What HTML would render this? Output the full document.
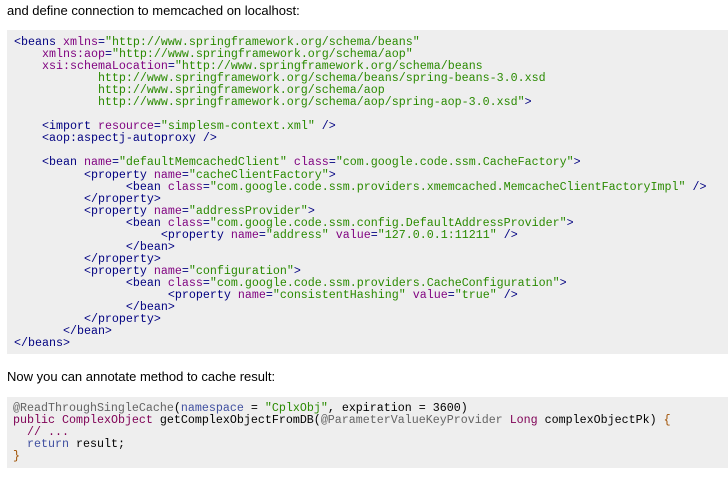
<!DOCTYPE html>
<html><head><style>
body{margin:0;width:728px;height:483px;background:#fff;position:relative;overflow:hidden;font-family:"Liberation Sans",Arial,sans-serif;}
.t{position:absolute;left:7px;font-size:13px;color:#000;}
.box{position:absolute;left:7px;right:0;background:#eeeeee;}
pre{position:absolute;margin:0;font-family:"Liberation Mono",monospace;font-size:11.67px;line-height:12.05px;color:#000080;}
.a{color:#7f007f}.s{color:#2a8a00}.k{color:#7f0055}.c{color:#3f4fa0}.n{color:#000}.an{color:#646464}.b{color:#a05000}
</style></head><body>
<div class="t" style="top:3px">and define connection to memcached on localhost:</div>
<div class="box" style="top:30px;height:324px"></div>
<pre style="left:14px;top:36px">&lt;beans <span class="a">xmlns</span>=<span class="s">"http://www.springframework.org/schema/beans"</span>
    <span class="a">xmlns:aop</span>=<span class="s">"http://www.springframework.org/schema/aop"</span>
    <span class="a">xsi:schemaLocation</span>=<span class="s">"http://www.springframework.org/schema/beans</span>
<span class="s">            http://www.springframework.org/schema/beans/spring-beans-3.0.xsd</span>
<span class="s">            http://www.springframework.org/schema/aop</span>
<span class="s">            http://www.springframework.org/schema/aop/spring-aop-3.0.xsd"</span>&gt;

    &lt;import <span class="a">resource</span>=<span class="s">"simplesm-context.xml"</span> /&gt;
    &lt;aop:aspectj-autoproxy /&gt;

    &lt;bean <span class="a">name</span>=<span class="s">"defaultMemcachedClient"</span> <span class="a">class</span>=<span class="s">"com.google.code.ssm.CacheFactory"</span>&gt;
          &lt;property <span class="a">name</span>=<span class="s">"cacheClientFactory"</span>&gt;
                &lt;bean <span class="a">class</span>=<span class="s">"com.google.code.ssm.providers.xmemcached.MemcacheClientFactoryImpl"</span> /&gt;
          &lt;/property&gt;
          &lt;property <span class="a">name</span>=<span class="s">"addressProvider"</span>&gt;
                &lt;bean <span class="a">class</span>=<span class="s">"com.google.code.ssm.config.DefaultAddressProvider"</span>&gt;
                     &lt;property <span class="a">name</span>=<span class="s">"address"</span> <span class="a">value</span>=<span class="s">"127.0.0.1:11211"</span> /&gt;
                &lt;/bean&gt;
          &lt;/property&gt;
          &lt;property <span class="a">name</span>=<span class="s">"configuration"</span>&gt;
                &lt;bean <span class="a">class</span>=<span class="s">"com.google.code.ssm.providers.CacheConfiguration"</span>&gt;
                      &lt;property <span class="a">name</span>=<span class="s">"consistentHashing"</span> <span class="a">value</span>=<span class="s">"true"</span> /&gt;
                &lt;/bean&gt;
          &lt;/property&gt;
       &lt;/bean&gt;
&lt;/beans&gt;</pre>
<div class="t" style="top:369px">Now you can annotate method to cache result:</div>
<div class="box" style="top:397px;height:71px"></div>
<pre style="left:13px;top:402px"><span class="an">@ReadThroughSingleCache</span><span class="n">(</span><span class="c">namespace</span><span class="n"> = </span><span class="s">"CplxObj"</span><span class="n">, expiration = 3600)</span>
<span class="k">public</span> <span class="k">ComplexObject</span><span class="n"> getComplexObjectFromDB(</span><span class="an">@ParameterValueKeyProvider</span> <span class="k">Long</span><span class="n"> complexObjectPk) </span><span class="b">{</span>
  <span class="k">// ...</span>
<span class="n">  </span><span class="c">return</span><span class="n"> result;</span>
<span class="b">}</span></pre>
</body></html>
